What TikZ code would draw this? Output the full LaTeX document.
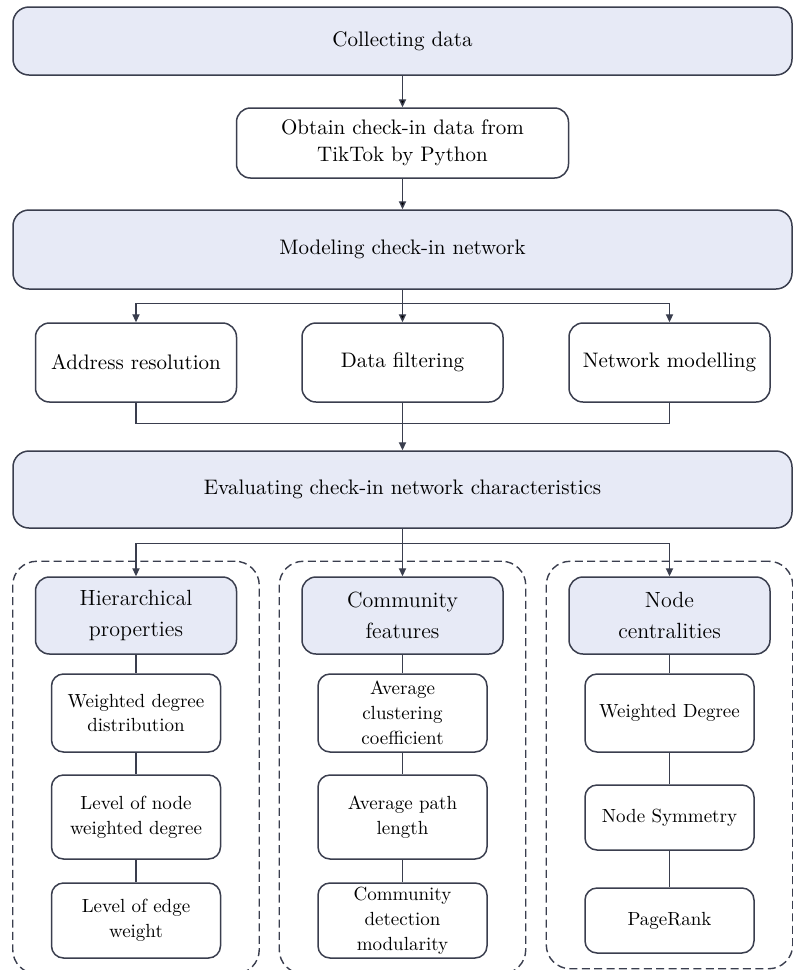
\documentclass[tikz,border=0pt]{standalone}
\usepackage{tikz}
\usetikzlibrary{arrows.meta, positioning, fit}
\definecolor{boxfill}{RGB}{231,234,246}
\definecolor{boxline}{RGB}{58,62,78}

\begin{document}
\begin{tikzpicture}[
        x=0.5pt, y=-0.5pt, on grid, >={Triangle[length=4pt,width=3.6pt]},
        stage/.style={draw=boxline, fill=boxfill, line width=0.75pt, rounded corners=8pt,
          minimum width=389.5pt, minimum height=34pt, font=\fontsize{10.5}{12.6}\selectfont},
        task/.style={draw=boxline, fill=white, line width=0.75pt, rounded corners=7pt,
          minimum width=100.5pt, minimum height=39.5pt, align=center, font=\fontsize{10.5}{13.5}\selectfont},
        head/.style={task, fill=boxfill, minimum height=38.5pt, font=\fontsize{11}{15.5}\selectfont},
        item/.style={task, minimum width=84.5pt, rounded corners=6pt, inner ysep=1pt,
          font=\fontsize{9.5}{12.5}\selectfont},
        group/.style={draw=boxline, line width=0.7pt, dash pattern=on 4pt off 2.2pt,
          rounded corners=12pt, inner xsep=11pt, inner ysep=7.5pt},
        link/.style={draw=boxline, line width=0.7pt},
        ]

        \useasboundingbox (0,0) rectangle (793,970);

        % main stages
        \node[stage] (collect) at (402.5,41) {Collecting data};
        \node[task, minimum width=166pt, minimum height=35pt, below=51pt of collect] (obtain)
          {Obtain check-in data from\\TikTok by Python};
        \node[stage, minimum height=39.5pt, below=53.25pt of obtain] (model) {Modeling check-in network};

        \node[task, below=56.5pt of model] (filt) {Data filtering};
        \node[task, left=133.25pt of filt]  (addr) {Address resolution};
        \node[task, right=133.5pt of filt]  (netm) {Network modelling};

        \node[stage, minimum height=38.5pt, below=63.5pt of filt] (eval)
          {Evaluating check-in network characteristics};

        % three groups of characteristics
        \node[head, below=63pt of eval] (comm) {Community\\features};
        \node[head, left=133.25pt of comm] (hier) {Hierarchical\\properties};
        \node[head, right=133.5pt of comm] (cent) {Node\\centralities};

        \node[item, minimum height=39pt, below=48.75pt of hier]   (hier_1) {Weighted degree\\distribution};
        \node[item, minimum height=42pt, below=52pt of hier_1]    (hier_2) {Level of node\\weighted degree};
        \node[item, minimum height=37.5pt, below=51.75pt of hier_2] (hier_3) {Level of edge\\weight};

        \node[item, minimum height=39pt, below=48.75pt of comm]   (comm_1) {Average\\clustering\\coefficient};
        \node[item, minimum height=42pt, below=52pt of comm_1]    (comm_2) {Average path\\length};
        \node[item, minimum height=37.5pt, below=51.75pt of comm_2] (comm_3) {Community\\detection\\modularity};

        \node[item, minimum height=39pt, below=48.75pt of cent]   (cent_1) {Weighted Degree};
        \node[item, minimum height=32.5pt, below=52.25pt of cent_1] (cent_2) {Node Symmetry};
        \node[item, minimum height=32.5pt, below=51.5pt of cent_2]  (cent_3) {PageRank};

        \node[group, fit=(hier) (hier_3)] (hier_box) {};
        \node[group, fit=(comm) (comm_3)] (comm_box) {};
        \node[group, fit=(cent) (cent_3)] (cent_box) {};

        % connectors
        \path[link, ->] (collect) edge (obtain) (obtain) edge (model) (model) edge (filt);
        \draw[link, ->] (filt.north) ++(0,9.5pt) -| (addr);
        \draw[link, ->] (filt.north) ++(0,9.5pt) -| (netm);
        \draw[link] (addr.south) -- ++(0,-10.5pt) -| (netm.south);
        \draw[link, ->] (filt) -- (eval);

        \draw[link, ->] (eval) -- (comm);
        \draw[link, ->] (eval.south) ++(0,-7.5pt) -| (hier);
        \draw[link, ->] (eval.south) ++(0,-7.5pt) -| (cent);

        \draw[link] (hier) -- (hier_1) -- (hier_2) -- (hier_3);
        \draw[link] (comm) -- (comm_1) -- (comm_2) -- (comm_3);
        \draw[link] (cent) -- (cent_1) -- (cent_2) -- (cent_3);
      \end{tikzpicture}
\end{document}
